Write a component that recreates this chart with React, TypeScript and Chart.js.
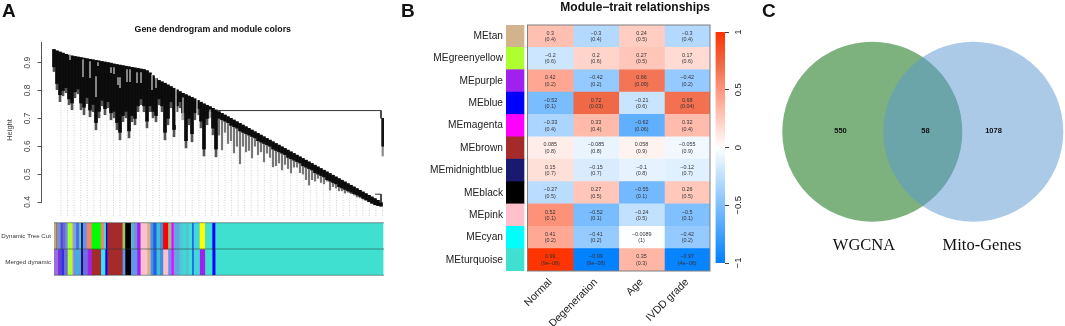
import React, { useEffect, useRef } from "react";
import { Chart, registerables } from "chart.js";

Chart.register(...registerables);
Chart.defaults.font.family = "'Liberation Sans', Arial, sans-serif";
Chart.defaults.animation = false as any;

// ---------- Panel A data ----------
const panelATitle = "Gene dendrogram and module colors";
const heightAxisLabel = "Height";
const leafStep = 3;
const leftClusterCount = 55;
const leafTops = [
  0.947, 0.942, 0.938, 0.934, 0.93, 0.927, 0.924, 0.922, 0.92, 0.918, 0.916, 0.914, 0.912, 0.91, 0.908, 0.906, 0.904, 0.902, 0.9, 0.898,
  0.895, 0.893, 0.891, 0.889, 0.887, 0.885, 0.883, 0.881, 0.879, 0.877, 0.875, 0.871, 0.863, 0.853, 0.843, 0.836, 0.831, 0.826, 0.82, 0.814,
  0.808, 0.802, 0.796, 0.79, 0.785, 0.78, 0.775, 0.77, 0.764, 0.758, 0.752, 0.747, 0.742, 0.736, 0.73, 0.724, 0.718, 0.712, 0.706, 0.7,
  0.694, 0.688, 0.682, 0.676, 0.67, 0.664, 0.658, 0.652, 0.646, 0.64, 0.634, 0.628, 0.622, 0.616, 0.61, 0.604, 0.598, 0.592, 0.586, 0.58,
  0.574, 0.568, 0.562, 0.556, 0.55, 0.544, 0.538, 0.532, 0.526, 0.52, 0.514, 0.508, 0.502, 0.496, 0.49, 0.484, 0.478, 0.472, 0.466, 0.46,
  0.454, 0.448, 0.442, 0.436, 0.43, 0.424, 0.418, 0.412, 0.406, 0.398,
];
const leafBlackBottoms = [
  0.885, 0.825, 0.785, 0.8, 0.81, 0.77, 0.755, 0.795, 0.805, 0.755, 0.74, 0.775, 0.73, 0.75, 0.685, 0.725, 0.765, 0.735, 0.76, 0.72,
  0.725, 0.685, 0.65, 0.71, 0.725, 0.655, 0.71, 0.7, 0.745, 0.77, 0.745, 0.69, 0.745, 0.725, 0.71, 0.77, 0.745, 0.65, 0.7, 0.76,
  0.66, 0.745, 0.76, 0.72, 0.62, 0.7, 0.645, 0.72, 0.735, 0.69, 0.59, 0.7, 0.725, 0.665, 0.59,
  0.7, 0.695, 0.69, 0.685, 0.675, 0.67, 0.665, 0.655, 0.65, 0.645, 0.64, 0.635, 0.63, 0.62, 0.615, 0.61, 0.605, 0.6, 0.59, 0.585,
  0.58, 0.575, 0.57, 0.56, 0.555, 0.55, 0.545, 0.54, 0.53, 0.525, 0.52, 0.515, 0.505, 0.5, 0.495, 0.49, 0.48, 0.475, 0.47, 0.465,
  0.455, 0.45, 0.445, 0.44, 0.435, 0.43, 0.425, 0.42, 0.413, 0.407, 0.401, 0.395, 0.39, 0.387, 0.385,
];
const leafGrayBottoms = [
  0.868, 0.803, 0.76, 0.781, 0.792, 0.749, 0.731, 0.774, 0.788, 0.731, 0.713, 0.753, 0.706, 0.724, 0.659, 0.702, 0.745, 0.713, 0.738, 0.695,
  0.702, 0.659, 0.623, 0.688, 0.702, 0.63, 0.688, 0.677, 0.724, 0.749, 0.724, 0.666, 0.724, 0.702, 0.688, 0.749, 0.724, 0.623, 0.677, 0.738,
  0.634, 0.724, 0.738, 0.695, 0.594, 0.677, 0.616, 0.695, 0.713, 0.666, 0.565, 0.677, 0.702, 0.641, 0.562,
  0.64, 0.587, 0.65, 0.61, 0.62, 0.576, 0.6, 0.537, 0.6, 0.58, 0.585, 0.558, 0.6, 0.57, 0.58, 0.544, 0.575, 0.56, 0.526, 0.53,
  0.54, 0.515, 0.535, 0.52, 0.504, 0.525, 0.525, 0.505, 0.5, 0.48, 0.461, 0.48, 0.475, 0.485, 0.47, 0.465, 0.475, 0.443, 0.455, 0.45,
  0.44, 0.44, 0.432, 0.435, 0.43, 0.425, 0.418, 0.415, 0.41, 0.407, 0.405, 0.4, 0.395, 0.39, 0.385,
];
const slitXs = [16, 29, 36, 42, 44, 57, 60, 64, 66, 73, 76, 83, 87, 98, 102, 122, 129, 143, 156];
const slitTops = [0.929, 0.911, 0.904, 0.85, 0.9, 0.882, 0.882, 0.846, 0.846, 0.875, 0.875, 0.864, 0.864, 0.857, 0.85, 0.81, 0.774, 0.778, 0.731];
const slitBottoms = [0.911, 0.85, 0.846, 0.778, 0.889, 0.864, 0.86, 0.821, 0.81, 0.832, 0.832, 0.828, 0.828, 0.803, 0.81, 0.677, 0.648, 0.648, 0.648];
const isolatedBranchX = 328.7;
const isolatedBranchBlack = [0.6, 0.7];
const isolatedBranchGray = [0.565, 0.7];
const guideXs = [
  7, 13.6, 20.1, 26.7, 33.2, 39.8, 46.4, 52.9, 59.5, 66, 72.6, 79.2, 85.7, 92.3, 98.8, 105.4, 112, 118.5, 125.1, 131.6, 138.2, 144.8, 151.3,
  157.9, 164.4, 171, 177.6, 184.1, 190.7, 197.2, 203.8, 210.4, 216.9, 223.5, 230, 236.6, 243.2, 249.7, 256.3, 262.8, 269.4, 276, 282.5, 289.1,
  295.6, 302.2, 308.8, 315.3, 321.9, 328.5,
];
const mergeLineXs = [162, 327, 327, null, 321, 327, 327];
const mergeLineYs = [0.728, 0.728, 0.7, null, 0.428, 0.428, 0.398];

const stripRows = ["Dynamic Tree Cut", "Merged dynamic"];
const tan = "#D2B48C", corn = "#6495ED", brown = "#A52A2A", turq = "#40E0D0", pink = "#FFC0CB", purple = "#A020F0", blue = "#0000FF";
const cutWidths = [1.7, 1.3, 1.3, 2, 2, 2.7, 2.3, 4.3, 1.3, 2.7, 3.3, 1.7, 2, 3.7, 5, 9.3, 3, 2, 1.3, 15.3, 2.7, 5.7, 3, 3.3, 3.3, 6.7, 3.3, 2.7, 3.3, 3.3, 3.3, 5, 3.3, 2.3, 6, 2.7, 4, 2, 3.6, 1.7, 6, 5.3, 7.3, 3, 168];
const cutColors = ["#C2A878", "#8470C0", "#A8A060", corn, "#4848E0", "#8060D0", corn, "#ADFF2F", tan, "#6FA8E0", "#5A6ADF", turq, "#191970", corn, "#FA8072", "#00FF00", "#FA8072", turq, blue, brown, "#A8C070", "#000000", "#60B0D0", "#7090E0", purple, pink, tan, "#5090E0", "#2060F0", "#40C0D0", "#4090E0", "#FF0000", "#90C090", "#FF00FF", "#60A8E0", "#50C8D8", "#40D8D0", "#60B8E0", turq, "#2060F0", "#40D8D8", "#FFFF00", turq, blue, turq];
const mergedWidths = [3.7, 2, 2, 2, 3.7, 4.3, 1.3, 2.7, 3.3, 1.7, 2, 4.7, 4, 9.3, 4.3, 2, 15.3, 2.7, 5.7, 6.3, 3.3, 6.7, 3.3, 2.7, 3.3, 3.3, 3.3, 5, 3.3, 2.3, 6, 2.7, 4, 2, 3.6, 1.7, 6, 5.3, 7.3, 3, 168];
const mergedColors = ["#9370DB", "#8A2BE2", "#4848D8", "#3030E8", "#7070D8", "#ADFF2F", tan, corn, "#40B0D8", corn, "#191970", "#6A70E0", purple, brown, "#40E0F8", blue, brown, corn, "#000000", corn, purple, pink, tan, "#5090E0", "#2060F0", "#40C0D0", "#4090E0", pink, corn, "#FF00FF", "#60A8E0", "#50C8D8", "#40D8D0", "#60B8E0", turq, "#2060F0", "#40D8D8", purple, turq, blue, turq];

// ---------- Panel B data ----------
const panelBTitle = "Module\u2212trait relationships";
const modules = ["MEtan", "MEgreenyellow", "MEpurple", "MEblue", "MEmagenta", "MEbrown", "MEmidnightblue", "MEblack", "MEpink", "MEcyan", "MEturquoise"];
const moduleColors = ["#D2B48C", "#ADFF2F", "#A020F0", "#0000FF", "#FF00FF", "#A52A2A", "#191970", "#000000", "#FFC0CB", "#00FFFF", "#40E0D0"];
const traits = ["Normal", "Degeneration", "Age", "IVDD grade"];
const corNormal = [0.3, -0.2, 0.42, -0.52, -0.33, 0.085, 0.15, -0.27, 0.52, 0.41, 0.99];
const corDegeneration = [-0.3, 0.2, -0.42, 0.72, 0.33, -0.085, -0.15, 0.27, -0.52, -0.41, -0.99];
const corAge = [0.24, 0.27, 0.66, -0.21, -0.62, 0.058, -0.1, -0.55, -0.24, -0.0089, 0.35];
const corGrade = [-0.3, 0.17, -0.42, 0.68, 0.32, -0.055, -0.12, 0.26, -0.5, -0.42, -0.97];
const pNormal = ["0.4", "0.6", "0.2", "0.1", "0.4", "0.8", "0.7", "0.5", "0.1", "0.2", "9e\u221208"];
const pDegeneration = ["0.4", "0.6", "0.2", "0.03", "0.4", "0.8", "0.7", "0.5", "0.1", "0.2", "9e\u221208"];
const pAge = ["0.5", "0.5", "0.09", "0.6", "0.06", "0.9", "0.8", "0.1", "0.5", "1", "0.3"];
const pGrade = ["0.4", "0.6", "0.2", "0.04", "0.4", "0.9", "0.7", "0.5", "0.1", "0.2", "4e\u221206"];
const corMatrix = [corNormal, corDegeneration, corAge, corGrade];
const pMatrix = [pNormal, pDegeneration, pAge, pGrade];
const colorbarTicks = [-1, -0.5, 0, 0.5, 1];
const colorStops: [number, number[]][] = [
  [-1, [0, 128, 255]],
  [0, [255, 255, 255]],
  [0.5, [255, 150, 125]],
  [0.72, [240, 105, 70]],
  [1, [255, 50, 0]],
];

// ---------- Panel C data ----------
const vennCounts = ["550", "58", "1078"];
const vennSets = ["WGCNA", "Mito-Genes"];

// ---------- Layout ----------
const CHART_LEFT_A = 41.5;
const SWATCH = [-0.4715, -0.0768];
const VENN = { lx: 122.3, rx: 223.3, cy: 131.7, r: 90 };

function corColor(v: number) {
  for (let i = 1; i < colorStops.length; i++) {
    const [b, cb] = colorStops[i];
    const [a, ca] = colorStops[i - 1];
    if (v <= b) {
      const t = (v - a) / (b - a);
      const c = ca.map((q, k) => Math.round(q + (cb[k] - q) * t));
      return `rgb(${c[0]},${c[1]},${c[2]})`;
    }
  }
  return "rgb(255,50,0)";
}
const minus = (s: string) => s.replace("-", "\u2212");

function segments(widths: number[]) {
  let at = 0;
  return widths.map((w) => {
    const seg = [at, at + w];
    at += w;
    return seg;
  });
}

function stripDatasets() {
  const out: any[] = [];
  segments(cutWidths).forEach((s, i) => out.push({ data: [s, null], backgroundColor: cutColors[i] }));
  segments(mergedWidths).forEach((s, i) => out.push({ data: [null, s], backgroundColor: mergedColors[i] }));
  return out;
}

const leafXs = leafTops.map((_, i) => i * leafStep);
function nearestBottom(x: number) {
  const i = Math.min(leafTops.length - 1, Math.round(x / leafStep));
  return leafGrayBottoms[i];
}

function dendroConfig(): any {
  const guidePoints: any[] = [];
  guideXs.forEach((x) => {
    guidePoints.push({ x, y: 0.35 }, { x, y: nearestBottom(x) + 0.01 }, { x: null, y: null });
  });
  const mergePoints = mergeLineXs.map((x, i) => ({ x, y: mergeLineYs[i] }));
  const grayPoints = leafXs.map((x, i) => ({ x, y: [leafGrayBottoms[i], leafTops[i]] }));
  return {
    type: "bar",
    data: {
      datasets: [
        { type: "line", data: mergePoints, borderColor: "#333", borderWidth: 1, pointRadius: 0, spanGaps: false, clip: false, order: 0 },
        { data: slitXs.map((x, i) => ({ x, y: [slitBottoms[i], slitTops[i]] })), backgroundColor: "rgba(255,255,255,0.6)", barThickness: 1, clip: false, order: 0 },
        { data: [{ x: isolatedBranchX, y: isolatedBranchBlack }], backgroundColor: "#111", barThickness: 2, clip: false, order: 1 },
        { data: leafXs.map((x, i) => ({ x, y: [leafBlackBottoms[i], leafTops[i]] })), backgroundColor: "#0b0b0b", barThickness: 3, clip: false, order: 1 },
        { data: [{ x: isolatedBranchX, y: isolatedBranchGray }], backgroundColor: "#888", barThickness: 1.5, clip: false, order: 2 },
        { data: grayPoints.slice(0, leftClusterCount), backgroundColor: "#555", barThickness: 2, clip: false, order: 2 },
        { data: grayPoints.slice(leftClusterCount), backgroundColor: "#777", barThickness: 1.5, clip: false, order: 2 },
        { type: "line", data: guidePoints, borderColor: "#cfcfcf", borderWidth: 1, borderDash: [1, 1.5], pointRadius: 0, spanGaps: false, clip: false, order: 3 },
      ],
    },
    options: {
      responsive: false,
      animation: false,
      datasets: { bar: { grouped: false } },
      layout: { padding: { top: 0, left: 0, right: 16, bottom: 16 } },
      plugins: {
        legend: { display: false },
        tooltip: { enabled: false },
        title: {
          display: true,
          text: panelATitle,
          fullSize: false,
          color: "#111",
          font: { size: 8.8, weight: "bold" },
          padding: { top: 24, bottom: 8 },
        },
      },
      scales: {
        x: { type: "linear", display: false, min: CHART_LEFT_A - 54, max: 330, offset: false },
        y: {
          type: "linear",
          min: 0.4,
          max: 0.972,
          afterFit: (s: any) => { s.width = CHART_LEFT_A; },
          border: { display: true, color: "#555", width: 1 },
          grid: { drawOnChartArea: false, drawTicks: true, tickLength: 4, color: "#555" },
          ticks: {
            stepSize: 0.1,
            includeBounds: false,
            minRotation: 90,
            maxRotation: 90,
            crossAlign: "center",
            padding: 4,
            color: "#444",
            font: { size: 8.4 },
            callback: (v: number) => v.toFixed(1),
          },
        },
      },
    },
    plugins: [
      {
        id: "heightLabel",
        afterDraw(chart: any) {
          const c = chart.ctx;
          c.save();
          c.translate(10, 130);
          c.rotate(-Math.PI / 2);
          c.font = "7.5px 'Liberation Sans'";
          c.fillStyle = "#444";
          c.textAlign = "center";
          c.textBaseline = "middle";
          c.fillText(heightAxisLabel, 0, 0);
          c.restore();
        },
      },
    ],
  };
}

function stripConfig(): any {
  return {
    type: "bar",
    data: { labels: stripRows, datasets: stripDatasets() },
    options: {
      responsive: false,
      animation: false,
      indexAxis: "y",
      datasets: { bar: { grouped: false, barPercentage: 1, categoryPercentage: 1 } },
      layout: { padding: { top: 4, left: 0, right: 16, bottom: 4.5 } },
      plugins: { legend: { display: false }, tooltip: { enabled: false } },
      scales: {
        x: { type: "linear", display: false, min: 0, max: 330, offset: false },
        y: {
          type: "category",
          offset: true,
          afterFit: (s: any) => { s.width = 54; },
          border: { display: false },
          grid: { display: false, drawTicks: false },
          ticks: { color: "#333", font: { size: 6.2 }, padding: 3 },
        },
      },
    },
    plugins: [
      {
        id: "stripFrame",
        afterDatasetsDraw(chart: any) {
          const { ctx: c, chartArea: a } = chart;
          const mid = (a.top + a.bottom) / 2;
          c.save();
          c.strokeStyle = "rgba(40,60,60,0.55)";
          c.lineWidth = 1;
          [a.top, mid, a.bottom].forEach((y: number) => {
            c.beginPath();
            c.moveTo(a.left, y);
            c.lineTo(a.right, y);
            c.stroke();
          });
          c.restore();
        },
      },
    ],
  };
}

function heatConfig(): any {
  const datasets: any[] = [
    { data: modules.map(() => SWATCH), backgroundColor: moduleColors },
    ...corMatrix.map((col, j) => ({
      data: col.map(() => [j, j + 1]),
      backgroundColor: col.map(corColor),
    })),
  ];
  return {
    type: "bar",
    data: { labels: modules, datasets },
    options: {
      responsive: false,
      animation: false,
      indexAxis: "y",
      datasets: { bar: { grouped: false, barPercentage: 1, categoryPercentage: 1 } },
      layout: { padding: { top: 0, left: 0, right: 2, bottom: 0 } },
      plugins: {
        legend: { display: false },
        tooltip: { enabled: false },
        title: {
          display: true,
          text: panelBTitle,
          fullSize: false,
          align: "end",
          color: "#111",
          font: { size: 12, weight: "bold" },
          padding: { top: 0, bottom: 10.6 },
        },
      },
      scales: {
        x: {
          type: "linear",
          min: SWATCH[0],
          max: 4,
          offset: false,
          afterFit: (s: any) => { s.height = 55; },
          afterBuildTicks: (s: any) => { s.ticks = traits.map((_, i) => ({ value: i + 0.5 })); },
          border: { display: false },
          grid: { display: false, drawTicks: false },
          ticks: {
            autoSkip: false,
            minRotation: 45,
            maxRotation: 45,
            padding: 5,
            color: "#222",
            font: { size: 10.6 },
            callback: (v: number) => traits[Math.round(v - 0.5)],
          },
        },
        y: {
          type: "category",
          offset: true,
          afterFit: (s: any) => { s.width = 106; },
          border: { display: false },
          grid: { display: false, drawTicks: false },
          ticks: { autoSkip: false, color: "#222", font: { size: 10.2 }, padding: 3 },
        },
      },
    },
    plugins: [
      {
        id: "cellText",
        afterDatasetsDraw(chart: any) {
          const { ctx: c, scales } = chart;
          const { x, y } = scales;
          c.save();
          c.font = "5.4px 'Liberation Sans'";
          c.fillStyle = "#333";
          c.textAlign = "center";
          c.textBaseline = "middle";
          corMatrix.forEach((col, j) => {
            col.forEach((v, i) => {
              const px = x.getPixelForValue(j + 0.5);
              const py = y.getPixelForValue(i);
              c.fillText(minus(String(v)), px, py - 3);
              c.fillText(`(${pMatrix[j][i]})`, px, py + 3.4);
            });
          });
          const l = x.getPixelForValue(0);
          const r = x.getPixelForValue(4);
          const t = chart.chartArea.top;
          const b = chart.chartArea.bottom;
          c.strokeStyle = "#7f7f7f";
          c.lineWidth = 1;
          c.strokeRect(l, t, r - l, b - t);
          c.restore();
        },
      },
    ],
  };
}

function colorbarConfig(): any {
  return {
    type: "bar",
    data: {
      labels: ["correlation"],
      datasets: [
        {
          data: [[-1, 1]],
          barPercentage: 1,
          categoryPercentage: 1,
          backgroundColor: (ctx: any) => {
            const { chart } = ctx;
            const a = chart.chartArea;
            if (!a) return "#fff";
            const g = chart.ctx.createLinearGradient(0, a.bottom, 0, a.top);
            colorStops.forEach(([v]) => g.addColorStop((v + 1) / 2, corColor(v)));
            return g;
          },
        },
      ],
    },
    options: {
      responsive: false,
      animation: false,
      layout: { padding: { top: 32, left: 3.5, right: 0, bottom: 63 } },
      plugins: { legend: { display: false }, tooltip: { enabled: false } },
      scales: {
        x: { type: "category", display: false, offset: true },
        y: {
          type: "linear",
          position: "right",
          min: -1,
          max: 1,
          afterFit: (s: any) => { s.width = 35; },
          afterBuildTicks: (s: any) => { s.ticks = colorbarTicks.map((value) => ({ value })); },
          border: { display: false },
          grid: { drawOnChartArea: false, drawTicks: true, tickLength: 4, color: "#444" },
          ticks: {
            minRotation: 90,
            maxRotation: 90,
            crossAlign: "center",
            padding: 0,
            color: "#222",
            font: { size: 9.5 },
            callback: (v: number) => minus(String(v)),
          },
        },
      },
    },
  };
}

function vennConfig(): any {
  return {
    type: "bubble",
    data: {
      datasets: [
        { label: vennSets[1], data: [{ x: VENN.rx, y: VENN.cy, r: VENN.r }], backgroundColor: "rgba(90,152,210,0.51)", borderWidth: 0, clip: false },
        { label: vennSets[0], data: [{ x: VENN.lx, y: VENN.cy, r: VENN.r }], backgroundColor: "rgb(125,178,127)", borderWidth: 0, clip: false },
      ],
    },
    options: {
      responsive: false,
      animation: false,
      layout: { padding: 0, autoPadding: false },
      plugins: { legend: { display: false }, tooltip: { enabled: false } },
      scales: {
        x: { type: "linear", display: false, min: 0, max: 315 },
        y: { type: "linear", display: false, min: 0, max: 326, reverse: true },
      },
    },
    plugins: [
      {
        id: "vennText",
        afterDraw(chart: any) {
          const { ctx: c, scales } = chart;
          const { x, y } = scales;
          c.save();
          c.textAlign = "center";
          c.textBaseline = "middle";
          c.fillStyle = "#111";
          c.font = "bold 7.5px 'Liberation Sans'";
          [90.5, 175.5, 243.5].forEach((px, i) => c.fillText(vennCounts[i], x.getPixelForValue(px), y.getPixelForValue(131)));
          c.font = "16.5px 'Liberation Serif'";
          [114, 232].forEach((px, i) => c.fillText(vennSets[i], x.getPixelForValue(px), y.getPixelForValue(246)));
          c.restore();
        },
      },
    ],
  };
}

function Panel({ left, top, width, height, make }: { left: number; top: number; width: number; height: number; make: () => any }) {
  const ref = useRef<HTMLCanvasElement | null>(null);
  useEffect(() => {
    if (!ref.current) return;
    const chart = new Chart(ref.current, make());
    return () => chart.destroy();
  }, [make]);
  return <canvas ref={ref} width={width} height={height} style={{ position: "absolute", left, top, width, height, display: "block", filter: "blur(0.4px)" }} />;
}

const letterStyle = (left: number, top: number): React.CSSProperties => ({
  position: "absolute",
  left,
  top,
  font: "bold 19px 'Liberation Sans', Arial, sans-serif",
  lineHeight: "22px",
  color: "#111",
});

export default function App() {
  return (
    <div style={{ position: "absolute", left: 0, top: 0, width: 1065, height: 326, background: "#fff", overflow: "hidden" }}>
      <Panel left={0} top={0} width={400} height={218} make={dendroConfig} />
      <Panel left={0} top={216} width={400} height={66} make={stripConfig} />
      <Panel left={400} top={0} width={312} height={326} make={heatConfig} />
      <Panel left={712} top={0} width={48} height={326} make={colorbarConfig} />
      <Panel left={750} top={0} width={315} height={326} make={vennConfig} />
      <div style={letterStyle(2, 0)}>A</div>
      <div style={letterStyle(401, 0)}>B</div>
      <div style={letterStyle(762, 0)}>C</div>
    </div>
  );
}
